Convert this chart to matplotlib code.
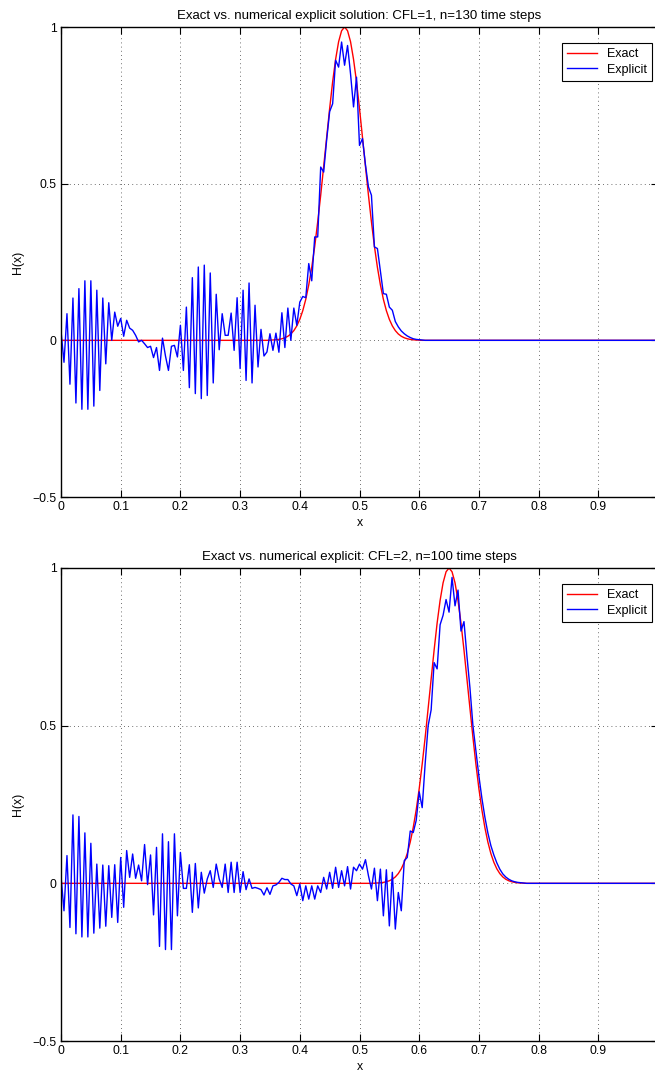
import numpy as np
import matplotlib
matplotlib.use("Agg")
import matplotlib.pyplot as plt

plt.rcParams['font.family'] = ['Liberation Sans', 'DejaVu Sans']

# grid of the numerical solution
x = np.linspace(0.0, 1.0, 201)

# --- top panel: CFL=1, n=130 ---
top_explicit = [
    0.03, -0.07, 0.085, -0.14, 0.135, -0.2, 0.165, -0.22, 0.19, -0.22,
    0.19, -0.21, 0.16, -0.16, 0.135, -0.075, 0.12, 0.0, 0.09, 0.045,
    0.07, 0.013, 0.064, 0.039, 0.032, 0.016, -0.005, 0.0, -0.011, -0.023,
    -0.019, -0.055, -0.023, -0.096, 0.007, -0.05, -0.096, -0.019, -0.016, -0.053,
    0.048, -0.096, 0.106, -0.151, 0.2, -0.17, 0.234, -0.186, 0.24, -0.176,
    0.215, -0.136, 0.147, -0.03, 0.085, 0.016, 0.016, 0.087, -0.032, 0.136,
    -0.09, 0.16, -0.128, 0.183, -0.136, 0.112, -0.085, 0.035, -0.05, -0.037,
    0.021, -0.032, 0.023, -0.038, 0.088, -0.023, 0.103, 0.0, 0.103, 0.048,
    0.122, 0.14, 0.136, 0.245, 0.19, 0.33, 0.33, 0.553, 0.537, 0.64,
    0.73, 0.755, 0.894, 0.872, 0.952, 0.878, 0.941, 0.85, 0.745, 0.84,
    0.622, 0.644, 0.56, 0.49, 0.463, 0.298, 0.293, 0.22, 0.149, 0.147,
    0.106, 0.096, 0.06, 0.043, 0.03, 0.021, 0.014, 0.009, 0.005, 0.003,
    0.002, 0.001,
] + [0.0] * 79

# --- bottom panel: CFL=2, n=100 ---
bot_explicit = [
    0.024, -0.087, 0.088, -0.14, 0.217, -0.16, 0.212, -0.17, 0.16, -0.17,
    0.127, -0.158, 0.061, -0.142, 0.058, -0.136, 0.056, -0.108, 0.059, -0.124,
    0.082, -0.076, 0.104, 0.019, 0.093, 0.016, 0.058, 0.008, 0.123, -0.004,
    0.09, -0.1, 0.114, -0.2, 0.157, -0.21, 0.132, -0.21, 0.157, -0.103,
    0.098, -0.016, -0.016, 0.059, -0.092, 0.063, -0.078, 0.035, -0.031, 0.014,
    0.04, -0.013, 0.061, 0.014, -0.013, 0.061, -0.029, 0.067, -0.029, 0.067,
    -0.029, 0.037, -0.02, 0.014, -0.016, -0.013, -0.016, -0.02, -0.037, -0.014,
    -0.035, -0.008, -0.005, 0.003, 0.016, 0.012, 0.012, -0.002, -0.008, -0.039,
    -0.002, -0.055, -0.008, -0.05, -0.008, -0.05, -0.008, -0.029, 0.019, -0.018,
    0.035, -0.016, 0.051, -0.013, 0.04, -0.008, 0.053, -0.018, 0.051, 0.04,
    0.061, 0.045, 0.075, 0.024, -0.018, 0.048, -0.055, 0.045, -0.103, 0.043,
    -0.135, 0.035, -0.145, -0.029, -0.087, 0.072, 0.082, 0.166, 0.161, 0.2,
    0.29, 0.24, 0.38, 0.5, 0.55, 0.7, 0.68, 0.82, 0.85, 0.9,
    0.86, 0.97, 0.88, 0.93, 0.8, 0.83, 0.72, 0.62, 0.5, 0.42,
    0.34, 0.27, 0.21, 0.16, 0.12, 0.09, 0.065, 0.045, 0.03, 0.02,
    0.013, 0.008, 0.005, 0.003, 0.002, 0.001,
] + [0.0] * 45

# exact pulse values (nonzero part)
exact_pulse = [
    0.0005, 0.001, 0.0017, 0.003, 0.005, 0.0082, 0.013, 0.0203, 0.031, 0.0461,
    0.0669, 0.0947, 0.131, 0.177, 0.233, 0.300, 0.378, 0.463, 0.555, 0.649,
    0.740, 0.825, 0.897, 0.953, 0.988, 1.0, 0.988, 0.953, 0.897, 0.825,
    0.740, 0.649, 0.555, 0.463, 0.378, 0.300, 0.233, 0.177, 0.131, 0.0947,
    0.0669, 0.0461, 0.031, 0.0203, 0.013, 0.0082, 0.005, 0.003, 0.0017, 0.001,
    0.0005,
]
top_exact_start = 70   # grid index where the top pulse begins
bot_exact_start = 105  # grid index where the bottom pulse begins

top_exact = np.zeros(201)
top_exact[top_exact_start:top_exact_start + len(exact_pulse)] = exact_pulse
bot_exact = np.zeros(201)
bot_exact[bot_exact_start:bot_exact_start + len(exact_pulse)] = exact_pulse

titles = ["Exact vs. numerical explicit solution: CFL=1, n=130 time steps",
          "Exact vs. numerical explicit: CFL=2, n=100 time steps"]
explicit_colors = ["#0000ff", "#0000ff"]
xticks = [0, 0.1, 0.2, 0.3, 0.4, 0.5, 0.6, 0.7, 0.8, 0.9, 1]
yticks = [-0.5, 0, 0.5, 1]

W, H = 655, 1072
fig = plt.figure(figsize=(W / 100, H / 100), dpi=100)
left = 61 / W
width = 597 / W
ax1 = fig.add_axes([left, 1 - 497 / H, width, 470 / H])
ax2 = fig.add_axes([left, 1 - 1041 / H, width, 473 / H])

FS = 8.8
for ax, ex, nm, title, col in [
    (ax1, top_exact, top_explicit, titles[0], explicit_colors[0]),
    (ax2, bot_exact, bot_explicit, titles[1], explicit_colors[1]),
]:
    ax.plot(x, ex, color="#ff0000", lw=1.0, label="Exact")
    ax.plot(x, nm, color=col, lw=1.0, label="Explicit")
    ax.set_xlim(0, 1)
    ax.set_ylim(-0.5, 1)
    ax.set_xticks(xticks)
    ax.set_xticklabels(["0", "0.1", "0.2", "0.3", "0.4", "0.5", "0.6",
                        "0.7", "0.8", "0.9", "1"])
    ax.set_yticks(yticks)
    ax.set_yticklabels(["\u22120.5", "0", "0.5", "1"])
    ax.tick_params(direction="in", top=True, right=True, length=5,
                   width=0.8, labelsize=FS, pad=3)
    ax.grid(True, color="0.25", linestyle=(0, (1, 4)), linewidth=0.6)
    for s in ax.spines.values():
        s.set_linewidth(1.0)
    ax.set_title(title, fontsize=9.5, pad=6)
    ax.set_xlabel("x", fontsize=FS, labelpad=3)
    ax.set_ylabel("H(x)", fontsize=FS, labelpad=6)
    leg = ax.legend(loc="upper right", bbox_to_anchor=(0.99, 0.966),
                    borderaxespad=0, fontsize=9, fancybox=False,
                    framealpha=1, edgecolor="black", handlelength=2.4,
                    borderpad=0.4, labelspacing=0.3, handletextpad=0.8)
    leg.get_frame().set_linewidth(0.8)

fig.savefig("out.png", dpi=100)
